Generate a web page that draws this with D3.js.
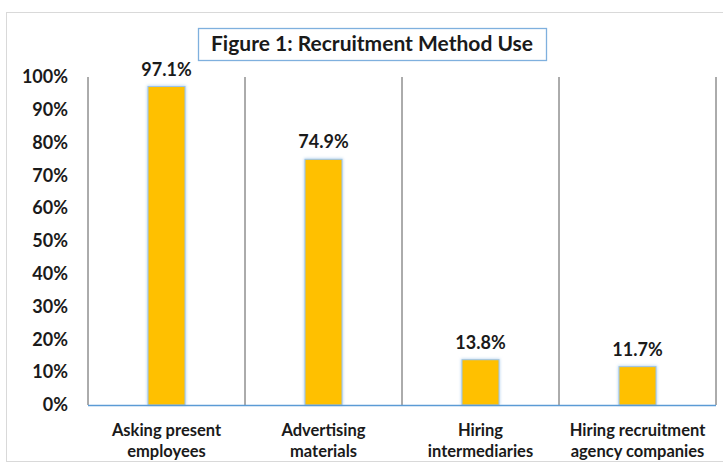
<!DOCTYPE html>
<html><head><meta charset="utf-8">
<script src="https://cdn.jsdelivr.net/npm/d3@7"></script>
<style>body{margin:0;background:#fff;} text{font-family:Lato,"Open Sans",sans-serif;font-weight:bold;fill:#1a1a1a;}</style>
</head><body>
<svg id="c" width="723" height="464"></svg>
<script>
const categories = [["Asking present","employees"],["Advertising","materials"],["Hiring","intermediaries"],["Hiring recruitment","agency companies"]];
const values = [97.1, 74.9, 13.8, 11.7];
const valueLabels = ["97.1%","74.9%","13.8%","11.7%"];
const yTicks = [0,10,20,30,40,50,60,70,80,90,100];
const title = "Figure 1: Recruitment Method Use";

const svg = d3.select("#c");
// outer border
svg.append("rect").attr("x",6.5).attr("y",12.5).attr("width",730).attr("height",449).attr("fill","none").attr("stroke","#d9d9d9");

const ids = categories.map((c,i)=>i);
const x = d3.scaleBand().domain(ids).range([88,716]).padding(0);
const y = d3.scaleLinear().domain([0,100]).range([405,77]);

// title box
const tg = svg.append("g");
tg.append("rect").attr("x",198.5).attr("y",28.5).attr("width",348).attr("height",32).attr("fill","#fff").attr("stroke","#7fb0de").attr("stroke-width",1.3);
tg.append("text").attr("x",372).attr("y",51).attr("text-anchor","middle").style("font-size","21px").text(title);

// category gridlines
svg.append("g").selectAll("line").data(ids.slice(1).concat([4])).join("line")
  .attr("x1",d=>d<4?x(d):x(3)+x.bandwidth()).attr("x2",d=>d<4?x(d):x(3)+x.bandwidth())
  .attr("y1",y(100)).attr("y2",y(0)).attr("stroke","#595959").attr("stroke-width",1);
// left axis line
svg.append("line").attr("x1",88).attr("x2",88).attr("y1",y(100)).attr("y2",y(0)).attr("stroke","#595959");

// y axis labels
const yAxis = d3.axisLeft(y).tickValues(yTicks).tickFormat(d=>d+"%").tickSize(0).tickPadding(20);
const ga = svg.append("g").attr("transform","translate(88,0)").call(yAxis);
ga.select(".domain").remove();
ga.selectAll("text").style("font-size","18px").attr("fill","#1a1a1a").style("font-family","Lato,sans-serif").style("font-weight","bold");

// bars with glow
const bw = 37;
const defs = svg.append("defs");
const f = defs.append("filter").attr("id","glow").attr("x","-50%").attr("y","-50%").attr("width","200%").attr("height","200%");
f.append("feGaussianBlur").attr("in","SourceGraphic").attr("stdDeviation",1.5);
svg.append("g").selectAll("rect").data(values).join("rect")
  .attr("x",(d,i)=>x(i)+x.bandwidth()/2-bw/2-1).attr("y",d=>y(d)-1).attr("width",bw+2).attr("height",d=>y(0)-y(d)+1)
  .attr("fill","#bcd7f0").attr("filter","url(#glow)");
svg.append("g").selectAll("rect").data(values).join("rect")
  .attr("x",(d,i)=>x(i)+x.bandwidth()/2-bw/2).attr("y",d=>y(d)).attr("width",bw).attr("height",d=>y(0)-y(d))
  .attr("fill","#FFC000").attr("stroke","#9cc3e8").attr("stroke-width",1);

// baseline
svg.append("line").attr("x1",88).attr("x2",716).attr("y1",y(0)+0.5).attr("y2",y(0)+0.5).attr("stroke","#5b9bd5").attr("stroke-width",1.5);

// value labels
svg.append("g").selectAll("text").data(values).join("text")
  .attr("x",(d,i)=>x(i)+x.bandwidth()/2).attr("y",d=>y(d)-11).attr("text-anchor","middle")
  .style("font-size","18px").text((d,i)=>valueLabels[i]);

// category labels
const cg = svg.append("g").selectAll("text").data(categories).join("text")
  .attr("x",(d,i)=>x(i)+x.bandwidth()/2).attr("y",436).attr("text-anchor","middle").style("font-size","16.5px");
cg.selectAll("tspan").data(d=>d).join("tspan").attr("x",function(){return this.parentNode.getAttribute("x");})
  .attr("dy",(d,j)=>j?21:0).text(d=>d);
</script>
</body></html>
